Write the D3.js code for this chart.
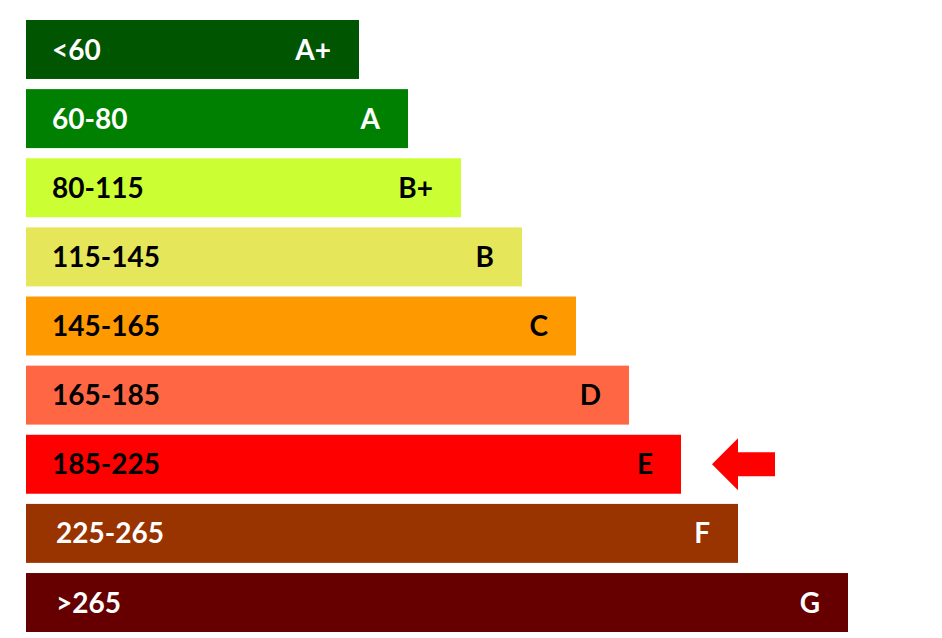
<!DOCTYPE html>
<html>
<head>
<script src="https://cdnjs.cloudflare.com/ajax/libs/d3/7.8.5/d3.min.js"></script>
<style>
  body { margin: 0; background: #fff; }
  text { font-family: Lato, "Open Sans", sans-serif; font-weight: 700; }
</style>
</head>
<body>
<svg id="chart"></svg>
<script>
const grades = ["A+", "A", "B+", "B", "C", "D", "E", "F", "G"];
const ranges = ["<60", "60-80", "80-115", "115-145", "145-165", "165-185", "185-225", "225-265", ">265"];
const lengths = [333, 382, 435, 496, 550, 603, 655, 712, 822];
const colors = ["#005500", "#008000", "#ccff33", "#e6e65a", "#ff9900", "#ff6644", "#ff0000", "#993300", "#660000"];
const textColors = ["#fff", "#fff", "#000", "#000", "#000", "#000", "#000", "#fff", "#fff"];
const current = "E";

const w = 942, h = 638;
const svg = d3.select("#chart").attr("width", w).attr("height", h);

const x = d3.scaleLinear().domain([0, 822]).range([26, 848]);
const y = d3.scaleBand().domain(grades).range([20, 632]).paddingInner(10 / 68).paddingOuter(0);

const rows = svg.selectAll("g.row").data(grades).join("g").attr("class", "row");

rows.append("rect")
  .attr("x", x(0))
  .attr("y", d => y(d))
  .attr("width", (d, i) => x(lengths[i]) - x(0))
  .attr("height", y.bandwidth())
  .attr("fill", (d, i) => colors[i]);

rows.append("text")
  .attr("x", (d, i) => i >= 7 ? 56 : 52)
  .attr("y", d => y(d) + y.bandwidth() / 2)
  .attr("dy", "0.36em")
  .attr("font-size", 28)
  .attr("fill", (d, i) => textColors[i])
  .text((d, i) => ranges[i]);

rows.append("text")
  .attr("x", (d, i) => x(lengths[i]) - 28)
  .attr("y", d => y(d) + y.bandwidth() / 2)
  .attr("dy", "0.36em")
  .attr("text-anchor", "end")
  .attr("font-size", 28)
  .attr("fill", (d, i) => textColors[i])
  .text(d => d);

// arrow pointing at the current grade
const cy = y(current) + y.bandwidth() / 2;
const ax = 712;
svg.append("path")
  .attr("d", `M${ax},${cy} L${ax + 26},${cy - 26} L${ax + 26},${cy - 12} L${ax + 63},${cy - 12} L${ax + 63},${cy + 12} L${ax + 26},${cy + 12} L${ax + 26},${cy + 26} Z`)
  .attr("fill", "#ff0000");
</script>
</body>
</html>
